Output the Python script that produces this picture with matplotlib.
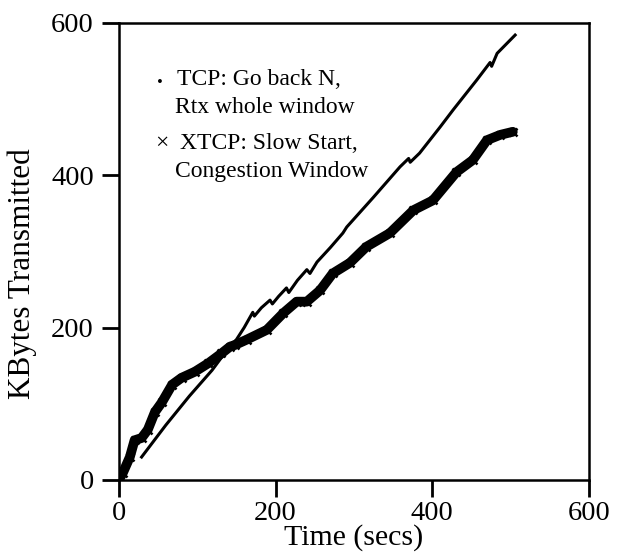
import matplotlib
matplotlib.use("Agg")
import matplotlib.pyplot as plt

# TCP (go back N): time in seconds, kilobytes transmitted
tcp_t = [29, 60, 90, 119, 142, 150, 160, 171, 173, 182, 193, 196, 204, 214, 217,
         228, 240, 244, 253, 270, 286, 291, 325, 359, 370, 372, 384, 410, 427,
         457, 474, 476, 483, 506]
tcp_kb = [30, 72, 110, 144, 176, 184, 200, 220, 215, 226, 236, 231, 241, 252, 246,
          262, 276, 271, 286, 305, 324, 332, 371, 411, 422, 417, 429, 463, 486,
          525, 548, 543, 560, 584]

# XTCP (slow start, congestion window)
xtcp_t = [0, 5, 14, 20, 29, 37, 46, 55, 68, 80, 97, 114, 131, 142, 148, 163,
          189, 210, 227, 240, 257, 273, 295, 316, 346, 376, 401, 431, 452,
          470, 487, 503]
xtcp_kb = [0, 9, 30, 52, 55, 66, 89, 102, 125, 134, 142, 153, 166, 175, 177, 184,
           197, 219, 234, 234, 249, 271, 285, 306, 324, 354, 367, 404, 420,
           446, 453, 457]

x_ticks = [0, 200, 400, 600]
y_ticks = [0, 200, 400, 600]

plt.rcParams["font.family"] = ["Liberation Serif", "DejaVu Serif"]

fig = plt.figure(figsize=(6.29, 5.58), dpi=100)
ax = fig.add_axes([0.189, 0.140, 0.747, 0.819])

ax.plot(xtcp_t, xtcp_kb, color="black", lw=7, solid_capstyle="round",
        solid_joinstyle="round")
ax.plot(xtcp_t, xtcp_kb, ls="none", marker="x", ms=6, mew=1.8, color="black")
ax.plot(tcp_t, tcp_kb, color="black", lw=2.2)

ax.set_xlim(0, 600)
ax.set_ylim(0, 600)
ax.set_xticks(x_ticks)
ax.set_yticks(y_ticks)
ax.tick_params(direction="out", length=12, width=2, labelsize=20.5)
ax.tick_params(axis="y", pad=6)
ax.tick_params(axis="x", pad=3)
for s in ax.spines.values():
    s.set_linewidth(1.8)

ax.set_xlabel("Time (secs)", fontsize=21.5, labelpad=-1)
ax.set_ylabel("KBytes Transmitted", fontsize=22.5)
ax.yaxis.set_label_coords(-0.174, 0.451)

# legend drawn as text
fs = 17
kw = dict(transform=ax.transAxes, fontsize=fs, va="baseline")
ax.text(0.080, 0.856, "·", fontweight="bold", **kw)
ax.text(0.123, 0.864, "TCP: Go back N,", **kw)
ax.text(0.119, 0.803, "Rtx whole window", **kw)
ax.text(0.078, 0.724, "×", **kw)
ax.text(0.130, 0.724, "XTCP: Slow Start,", **kw)
ax.text(0.119, 0.663, "Congestion Window", **kw)

fig.savefig("out.png", dpi=100)
